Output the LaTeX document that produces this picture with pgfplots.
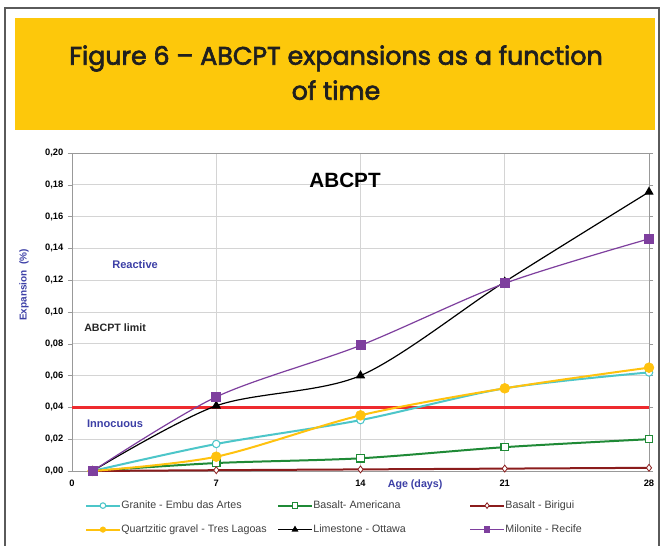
\documentclass[border=0pt]{standalone}
\usepackage{pgfplots}
\pgfplotsset{compat=1.18}
\usepackage{fontspec}
\setmainfont{Liberation Sans}
\newfontfamily\titlefont{Poppins}[FakeBold=2.6]
\definecolor{banner}{HTML}{FDC80B}
\definecolor{frame}{HTML}{5A5A5A}
\definecolor{cgran}{HTML}{4CC6C9}
\definecolor{cbasa}{HTML}{1F8A36}
\definecolor{cbasb}{HTML}{8B1C1C}
\definecolor{cquar}{HTML}{FFC20E}
\definecolor{cmilo}{HTML}{7E3F9E}
\definecolor{cblue}{HTML}{3C3FA6}
\definecolor{climit}{HTML}{EE2A2E}
\definecolor{cgrid}{HTML}{D4D4D4}
\begin{document}
\begin{tikzpicture}
\path[use as bounding box] (0,0) rectangle (496.5pt,409.5pt);
\fill[white] (0,0) rectangle (496.5pt,409.5pt);
\draw[frame, line width=1.2pt] (3.75pt,0) -- (3.75pt,403.5pt) -- (494.25pt,403.5pt) -- (494.25pt,0);
\fill[banner] (11.25pt,312pt) rectangle (491.25pt,396pt);
\node[font=\titlefont\fontsize{19}{26.25}\selectfont, color=black!88, align=center] at (252pt,355pt) {Figure 6 – ABCPT expansions as a function\\of time};
\begin{axis}[
 at={(54pt,56.25pt)}, anchor=south west,
 scale only axis, width=432.75pt, height=238.5pt,
 xmin=0, xmax=28, ymin=0, ymax=0.2,
 clip=false,
 xtick={0,7,14,21,28},
 ytick={0,0.02,0.04,0.06,0.08,0.1,0.12,0.14,0.16,0.18,0.2},
 /pgf/number format/assume math mode=true,
 yticklabel style={/pgf/number format/.cd, fixed, fixed zerofill, precision=2, use comma},
 ticklabel style={font=\bfseries\fontsize{7}{8}\selectfont},
 grid=major, grid style={cgrid, line width=0.6pt},
 axis line style={gray!80},
 tick style={gray!80}, tick align=outside, major tick length=3pt,
 xtick style={draw=none},
 ylabel={Expansion\ \ (\%)},
 ylabel style={font=\bfseries\fontsize{7.5}{9}\selectfont, color=cblue, at={(axis description cs:-0.083,0.585)}, anchor=center},
 legend columns=3,
 legend cell align=left,
 legend style={at={(axis description cs:0.0225,-0.087)}, anchor=north west, draw=none, fill=none, inner sep=0pt,
   font=\fontsize{8}{9}\selectfont, nodes={inner xsep=0.5pt, inner ysep=1pt, text height=6pt, text depth=2pt},
   row sep=8pt, text=black!75},
 legend image code/.code={\draw[mark repeat=2,mark phase=2,mark size=2.1pt,#1] plot coordinates {(0cm,0cm)(0.44cm,0cm)(0.88cm,0cm)};},
]
\addplot[climit, line width=2.2pt, forget plot] coordinates {(0,0.04) (28,0.04)};
\addplot[cgran, line width=1.5pt, smooth, mark=*, mark size=2.8pt, mark options={fill=white, draw=cgran, line width=0.8pt}]
 coordinates {(1,0) (7,0.017) (14,0.032) (21,0.052) (28,0.062)};
\addlegendentry{\makebox[116.5pt][l]{Granite - Embu das Artes}}
\addplot[cbasa, line width=1.5pt, smooth, mark=square*, mark size=2.8pt, mark options={fill=white, draw=cbasa, line width=0.8pt}]
 coordinates {(1,0) (7,0.005) (14,0.008) (21,0.015) (28,0.020)};
\addlegendentry{\makebox[116.5pt][l]{Basalt- Americana}}
\addplot[cbasb, line width=1.5pt, smooth, mark=diamond*, mark size=2.6pt, mark options={fill=white, draw=cbasb, line width=0.6pt}]
 coordinates {(1,0) (7,0.0005) (14,0.001) (21,0.0015) (28,0.002)};
\addlegendentry{\makebox[116.5pt][l]{Basalt - Birigui}}
\addplot[cquar, line width=1.5pt, smooth, mark=*, mark size=3.7pt, mark options={fill=cquar, draw=cquar, line width=0.4pt}]
 coordinates {(1,0) (7,0.009) (14,0.035) (21,0.052) (28,0.065)};
\addlegendentry{\makebox[116.5pt][l]{Quartzitic gravel - Tres Lagoas}}
\addplot[black, line width=0.9pt, smooth, mark=triangle*, mark size=3.2pt, mark options={fill=black}]
 coordinates {(1,0) (7,0.041) (14,0.060) (21,0.119) (28,0.1755)};
\addlegendentry{\makebox[116.5pt][l]{Limestone - Ottawa}}
\addplot[cmilo, line width=0.9pt, smooth, mark=square*, mark size=3.3pt, mark options={fill=cmilo}]
 coordinates {(1,0) (7,0.0466) (14,0.079) (21,0.118) (28,0.146)};
\addlegendentry{\makebox[116.5pt][l]{Milonite - Recife}}
\node[font=\bfseries\fontsize{15.5}{18}\selectfont] at (axis cs:13.25,0.183) {ABCPT};
\node[font=\bfseries\fontsize{8.3}{10}\selectfont, color=cblue] at (axis cs:3.06,0.1296) {Reactive};
\node[font=\bfseries\fontsize{8}{10}\selectfont, color=black!85] at (axis cs:2.09,0.090) {ABCPT limit};
\node[font=\bfseries\fontsize{8.3}{10}\selectfont, color=cblue] at (axis cs:2.09,0.0296) {Innocuous};
\node[font=\bfseries\fontsize{8}{10}\selectfont, color=cblue] at (axis cs:16.65,-0.0088) {Age (days)};
\end{axis}
\end{tikzpicture}
\end{document}
